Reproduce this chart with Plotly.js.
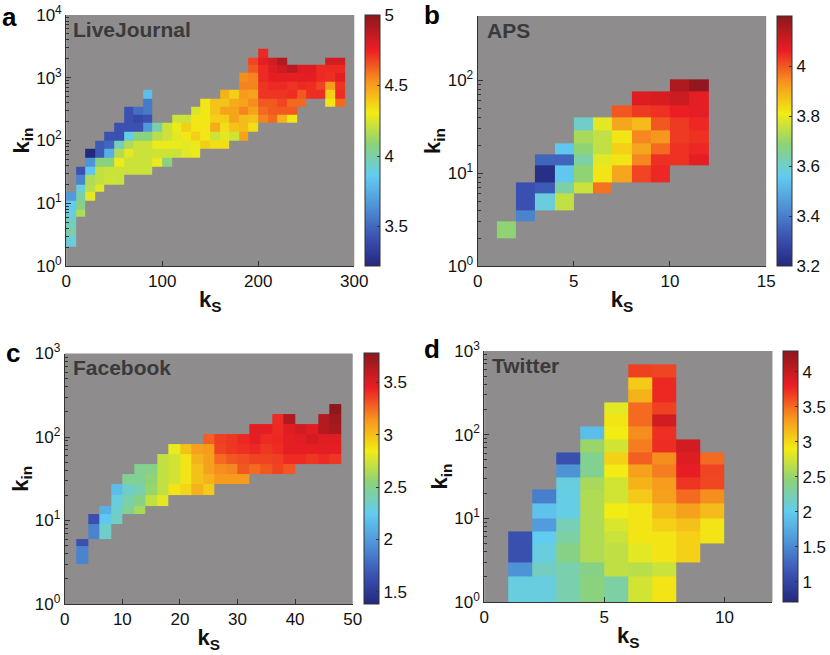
<!DOCTYPE html>
<html><head><meta charset="utf-8">
<script src="https://cdn.plot.ly/plotly-3.0.1.min.js"></script>
<style>html,body{margin:0;padding:0;background:#fff}#chart{width:830px;height:655px}</style>
</head><body><div id="chart"></div><script>
const _ = null;

// ---------- a: LiveJournal ----------
const ljKsEdges = [0,10,20,30,40,50,60,70,80,90,100,110,120,130,140,150,160,170,180,190,200,210,220,230,240,250,260,270,280,290];
const ljKinEdges = [2,3,4,6,8,11,15,20,28,38,53,73,100,137,189,254,349,468,643,863,1187,1585,2110,2900];
const ljZ = [
 [3.90,_,_,_,_,_,_,_,_,_, _,_,_,_,_,_,_,_,_,_, _,_,_,_,_,_,_,_,_],
 [3.99,_,_,_,_,_,_,_,_,_, _,_,_,_,_,_,_,_,_,_, _,_,_,_,_,_,_,_,_],
 [3.95,_,_,_,_,_,_,_,_,_, _,_,_,_,_,_,_,_,_,_, _,_,_,_,_,_,_,_,_],
 [3.90,4.16,_,_,_,_,_,_,_,_, _,_,_,_,_,_,_,_,_,_, _,_,_,_,_,_,_,_,_],
 [3.86,4.06,_,_,_,_,_,_,_,_, _,_,_,_,_,_,_,_,_,_, _,_,_,_,_,_,_,_,_],
 [3.67,3.99,4.27,_,_,_,_,_,_,_, _,_,_,_,_,_,_,_,_,_, _,_,_,_,_,_,_,_,_],
 [_,3.90,4.18,4.27,_,_,_,_,_,_, _,_,_,_,_,_,_,_,_,_, _,_,_,_,_,_,_,_,_],
 [_,3.59,4.16,4.20,4.23,4.22,_,_,_,_, _,_,_,_,_,_,_,_,_,_, _,_,_,_,_,_,_,_,_],
 [_,3.42,3.84,4.20,4.22,4.22,4.22,4.22,4.22,_, _,_,_,_,_,_,_,_,_,_, _,_,_,_,_,_,_,_,_],
 [_,_,3.65,4.07,4.07,4.29,4.22,4.22,4.22,4.29, 4.07,_,_,_,_,_,_,_,_,_, _,_,_,_,_,_,_,_,_],
 [_,_,3.22,3.45,3.75,4.16,4.27,4.22,4.22,4.23, 4.23,4.22,4.27,4.29,_,_,_,_,_,_, _,_,_,_,_,_,_,_,_],
 [_,_,_,3.45,3.49,3.95,4.16,4.22,4.22,4.29, 4.29,4.29,4.27,4.29,4.38,4.34,4.34,_,_,_, _,_,_,_,_,_,_,_,_],
 [_,_,_,_,3.42,3.42,3.88,4.07,4.07,4.18, 4.22,4.27,4.32,4.38,4.32,4.23,4.27,4.23,4.49,_, _,_,_,_,_,_,_,_,_],
 [_,_,_,_,_,3.42,3.42,3.42,3.67,3.99, 4.22,4.29,4.38,4.32,4.32,4.47,4.34,4.41,4.43,4.34, _,_,_,_,_,_,_,_,_],
 [_,_,_,_,_,_,3.42,3.38,3.42,_, _,4.22,4.22,4.32,4.32,4.38,4.38,4.49,4.43,4.41, 4.56,4.61,4.45,4.32,_,_,_,_,_],
 [_,_,_,_,_,_,3.42,3.52,3.56,_, _,_,_,4.25,4.32,4.41,4.49,4.49,4.56,4.49, 4.61,4.64,4.64,4.64,_,_,_,_,_],
 [_,_,_,_,_,_,_,_,3.56,_, _,_,_,_,4.32,4.41,4.41,4.47,4.49,4.54, 4.64,4.64,4.68,4.61,4.61,_,_,4.32,4.61],
 [_,_,_,_,_,_,_,_,3.81,_, _,_,_,_,_,_,4.45,4.38,4.51,4.49, 4.71,4.71,4.71,4.72,4.64,4.72,4.72,4.38,4.72],
 [_,_,_,_,_,_,_,_,_,_, _,_,_,_,_,_,_,_,4.56,4.56, 4.71,4.73,4.73,4.71,4.73,4.72,4.68,4.51,4.71],
 [_,_,_,_,_,_,_,_,_,_, _,_,_,_,_,_,_,_,4.54,4.56, 4.73,4.77,4.77,4.77,4.77,4.77,4.73,4.72,4.77],
 [_,_,_,_,_,_,_,_,_,_, _,_,_,_,_,_,_,_,_,4.64, 4.73,4.79,4.84,4.88,4.79,4.79,4.73,4.73,4.73],
 [_,_,_,_,_,_,_,_,_,_, _,_,_,_,_,_,_,_,_,4.68, 4.77,4.82,4.91,_,_,_,_,4.82,4.82],
 [_,_,_,_,_,_,_,_,_,_, _,_,_,_,_,_,_,_,_,_, 4.73,_,_,_,_,_,_,_,_]
];

// ---------- b: APS ----------
const apsKsEdges = [1,2,3,4,5,6,7,8,9,10,11,12];
const apsKinEdges = [2,3,4,6,8,12,16,21,29,40,54,75,102];
const apsZ = [
 [3.69,_,_,_,_,_,_,_,_,_,_],
 [_,3.41,_,_,_,_,_,_,_,_,_],
 [_,3.31,3.58,3.75,_,_,_,_,_,_,_],
 [_,3.31,3.33,3.64,3.76,3.97,_,_,_,_,_],
 [_,_,3.22,3.55,3.69,3.82,3.91,4.02,4.05,_,_],
 [_,_,3.35,3.35,3.64,3.79,3.82,3.95,4.04,4.04,4.07],
 [_,_,_,3.55,3.69,3.75,3.85,3.91,3.98,4.04,4.05],
 [_,_,_,_,3.72,3.75,3.82,3.95,3.93,4.03,4.04],
 [_,_,_,_,3.60,3.79,3.91,3.88,4.00,4.03,4.05],
 [_,_,_,_,_,_,4.00,4.03,4.04,4.06,4.07],
 [_,_,_,_,_,_,_,4.08,4.09,4.11,4.07],
 [_,_,_,_,_,_,_,_,_,4.15,4.19]
];

// ---------- c: Facebook ----------
const fbKsEdges = [2,4,6,8,10,12,14,16,18,20,22,24,26,28,30,32,34,36,38,40,42,44,46,48];
const fbKinEdges = [3,5,6,9,12,15,20,27,36,48,62,82,108,143,188,248];
const fbZ = [
 [1.88,_,_,_,_,_,_,_,_,_, _,_,_,_,_,_,_,_,_,_, _,_,_],
 [1.64,_,_,_,_,_,_,_,_,_, _,_,_,_,_,_,_,_,_,_, _,_,_],
 [_,1.88,2.34,_,_,_,_,_,_,_, _,_,_,_,_,_,_,_,_,_, _,_,_],
 [_,1.64,2.22,2.36,_,_,_,_,_,_, _,_,_,_,_,_,_,_,_,_, _,_,_],
 [_,_,2.10,2.32,2.48,2.63,_,_,_,_, _,_,_,_,_,_,_,_,_,_, _,_,_],
 [_,_,_,2.29,2.41,2.51,2.70,2.80,_,_, _,_,_,_,_,_,_,_,_,_, _,_,_],
 [_,_,_,2.17,2.34,2.41,2.58,2.70,2.87,2.92, 3.04,2.96,_,_,_,_,_,_,_,_, _,_,_],
 [_,_,_,_,2.48,2.48,2.56,2.70,2.75,2.87, 2.99,3.04,3.12,3.12,3.12,_,_,_,_,_, _,_,_],
 [_,_,_,_,_,2.48,2.51,2.70,2.75,2.87, 2.99,3.10,3.16,3.18,3.30,3.25,3.30,3.35,3.30,_, _,_,_],
 [_,_,_,_,_,_,_,2.70,2.75,2.87, 3.04,3.10,3.25,3.30,3.32,3.35,3.35,3.36,3.41,3.41, 3.38,3.41,3.38],
 [_,_,_,_,_,_,_,_,2.82,2.99, 3.10,3.12,3.35,3.38,3.40,3.42,3.38,3.41,3.47,3.47, 3.47,3.47,3.47],
 [_,_,_,_,_,_,_,_,_,_, _,3.28,3.36,3.38,3.42,3.47,3.41,3.42,3.47,3.49, 3.54,3.49,3.49],
 [_,_,_,_,_,_,_,_,_,_, _,_,_,_,_,3.47,3.47,3.41,3.49,3.54, 3.49,3.64,3.68],
 [_,_,_,_,_,_,_,_,_,_, _,_,_,_,_,_,_,3.41,3.66,_, _,3.64,3.71],
 [_,_,_,_,_,_,_,_,_,_, _,_,_,_,_,_,_,_,_,_, _,_,3.78]
];

// ---------- d: Twitter ----------
const twKsEdges = [1,2,3,4,5,6,7,8,9,10];
const twKinEdges = [1,2,3,5,7,10,15,22,31,44,62,88,124,174,245,347,490,692];
const twZ = [
 [2.07,2.07,2.25,2.43,2.29,2.76,2.94,_,_],
 [1.57,2.18,2.25,2.40,2.68,2.65,2.72,_,_],
 [1.10,2.07,2.40,2.61,2.68,2.83,2.94,3.04,_],
 [1.10,2.00,2.29,2.61,2.72,2.94,2.94,3.04,2.94],
 [_,1.64,2.22,2.61,2.79,2.94,3.04,3.12,2.94],
 [_,1.93,2.04,2.61,2.90,2.94,3.15,3.28,3.15],
 [_,1.43,2.04,2.61,2.76,3.08,3.28,3.51,3.37],
 [_,_,2.07,2.58,2.76,3.19,3.31,3.71,3.64],
 [_,_,1.57,2.36,2.90,3.28,3.44,3.83,3.65],
 [_,_,1.10,2.36,3.04,3.55,3.37,3.87,3.51],
 [_,_,_,2.51,2.76,3.44,3.74,3.94,_],
 [_,_,_,1.89,2.90,3.37,3.73,_,_],
 [_,_,_,_,2.94,3.51,3.94,_,_],
 [_,_,_,_,2.83,3.51,3.67,_,_],
 [_,_,_,_,_,3.19,3.76,_,_],
 [_,_,_,_,_,3.08,3.76,_,_],
 [_,_,_,_,_,3.67,3.65,_,_]
];

// tick labels
const panelLetters = ['a','b','c','d'];
const panelNames = ['LiveJournal','APS','Facebook','Twitter'];
const xTicksA = [0,100,200,300], xTicksB = [0,5,10,15], xTicksC = [0,10,20,30,40,50], xTicksD = [0,5,10];
const cbTicksA = [3.5,4,4.5,5], cbTicksB = [3.2,3.4,3.6,3.8,4], cbTicksC = [1.5,2,2.5,3,3.5], cbTicksD = [1,1.5,2,2.5,3,3.5,4];

const jet = [
 [0,'rgb(36,40,125)'],[0.11,'rgb(58,80,176)'],[0.235,'rgb(78,145,214)'],
 [0.36,'rgb(98,204,240)'],[0.485,'rgb(140,210,120)'],[0.61,'rgb(242,236,20)'],
 [0.735,'rgb(247,148,30)'],[0.86,'rgb(236,30,36)'],[1,'rgb(140,24,28)']
];
const FONT = 'Liberation Sans, Arial, Helvetica, sans-serif';
const W = 830, H = 655;

function decTicks(n){ const v=[],t=[]; for(let p=0;p<=n;p++){v.push(Math.pow(10,p)); t.push('10<sup>'+p+'</sup>');} return [v,t]; }
function minorTicks(n){ const v=[]; for(let p=0;p<n;p++) for(let m=2;m<=9;m++) v.push(m*Math.pow(10,p)); return v; }

function cb(xpx, ytop, ybot, ticks){
  return {x: xpx/W, xanchor:'left', y: 1-(ytop+ybot)/2/H, yanchor:'middle', len: ybot-ytop, lenmode:'pixels',
    thickness: 15, thicknessmode:'pixels', xpad:0, ypad:0, outlinewidth:1, outlinecolor:'#333',
    tickmode:'array', tickvals: ticks, ticks:'inside', ticklen:3, tickcolor:'#333',
    tickfont:{family:FONT,size:17,color:'#111'}};
}
function hm(xe, ye, z, xa, ya, zmin, zmax, cbar){
  return {type:'heatmap', x:xe, y:ye, z:z, xaxis:xa, yaxis:ya, colorscale:jet, zmin:zmin, zmax:zmax,
    zsmooth:false, hoverinfo:'skip', colorbar:cbar};
}

const data = [
  hm(ljKsEdges, ljKinEdges, ljZ, 'x', 'y', 3.22, 5.0, cb(367.7, 15, 266, cbTicksA)),
  hm(apsKsEdges, apsKinEdges, apsZ, 'x2', 'y2', 3.2, 4.2, cb(783.3, 16, 266, cbTicksB)),
  hm(fbKsEdges, fbKinEdges, fbZ, 'x3', 'y3', 1.38, 3.78, cb(366.7, 353.5, 604, cbTicksC)),
  hm(twKsEdges, twKinEdges, twZ, 'x4', 'y4', 0.71, 4.3, cb(789.3, 351, 602, cbTicksD))
];

function xax(l, r, anchor, range, ticks){
  return {domain:[l/W, r/W], anchor:anchor, range:range, tickmode:'array', tickvals:ticks,
    ticks:'inside', ticklen:5, tickcolor:'#333', showline:true, linecolor:'#333', linewidth:1,
    showgrid:false, zeroline:false, fixedrange:true, automargin:false,
    tickfont:{family:FONT,size:17,color:'#111'},
    title:{text:'<b>k<sub>S</sub></b>', font:{family:FONT,size:22,color:'#111'}, standoff:1}};
}
function yax(top, bot, anchor, rmax, ndec){
  const [tv, tt] = decTicks(ndec);
  return {domain:[1-bot/H, 1-top/H], anchor:anchor, type:'log', range:[0,rmax],
    tickmode:'array', tickvals:tv, ticktext:tt,
    ticks:'inside', ticklen:5, tickcolor:'#333',
    minor:{tickmode:'array', tickvals:minorTicks(ndec), ticks:'inside', ticklen:3, tickcolor:'#333'},
    showline:true, linecolor:'#333', linewidth:1, showgrid:false, zeroline:false, fixedrange:true, automargin:false,
    tickfont:{family:FONT,size:17,color:'#111'},
    title:{text:'<b>k<sub>in</sub></b>', font:{family:FONT,size:22,color:'#111'}, standoff:0}};
}

function letter(t, xpx, ypx){
  return {text:'<b>'+t+'</b>', xref:'paper', yref:'paper', x:xpx/W, y:1-ypx/H, xanchor:'left', yanchor:'top',
    showarrow:false, font:{family:FONT,size:26,color:'#000'}};
}
function pname(t, xpx, ypx){
  return {text:'<b>'+t+'</b>', xref:'paper', yref:'paper', x:xpx/W, y:1-ypx/H, xanchor:'left', yanchor:'top',
    showarrow:false, font:{family:FONT,size:21,color:'#3a3a3a'}};
}

const layout = {
  width:W, height:H, margin:{l:0,r:0,t:0,b:0}, paper_bgcolor:'#fff', plot_bgcolor:'#8e8c8d',
  font:{family:FONT}, showlegend:false,
  xaxis: xax(66.7, 357.3, 'y', [0,300], xTicksA),
  yaxis: yax(15, 266, 'x', 4, 4),
  xaxis2: xax(481.7, 772.7, 'y2', [0,15], xTicksB),
  yaxis2: yax(16, 266, 'x2', 2.69, 2),
  xaxis3: xax(65.3, 355.7, 'y3', [0,50], xTicksC),
  yaxis3: yax(353.5, 604, 'x3', 3, 3),
  xaxis4: xax(488.3, 779, 'y4', [0,12], xTicksD),
  yaxis4: yax(351, 602, 'x4', 3, 3),
  annotations: [
    letter(panelLetters[0], 0, 0), letter(panelLetters[1], 426, -2),
    letter(panelLetters[2], 4, 336), letter(panelLetters[3], 426, 332),
    pname(panelNames[0], 72, 16), pname(panelNames[1], 489, 17),
    pname(panelNames[2], 72, 354), pname(panelNames[3], 494, 352)
  ]
};

Plotly.newPlot('chart', data, layout, {staticPlot:true, displayModeBar:false});
</script></body></html>
